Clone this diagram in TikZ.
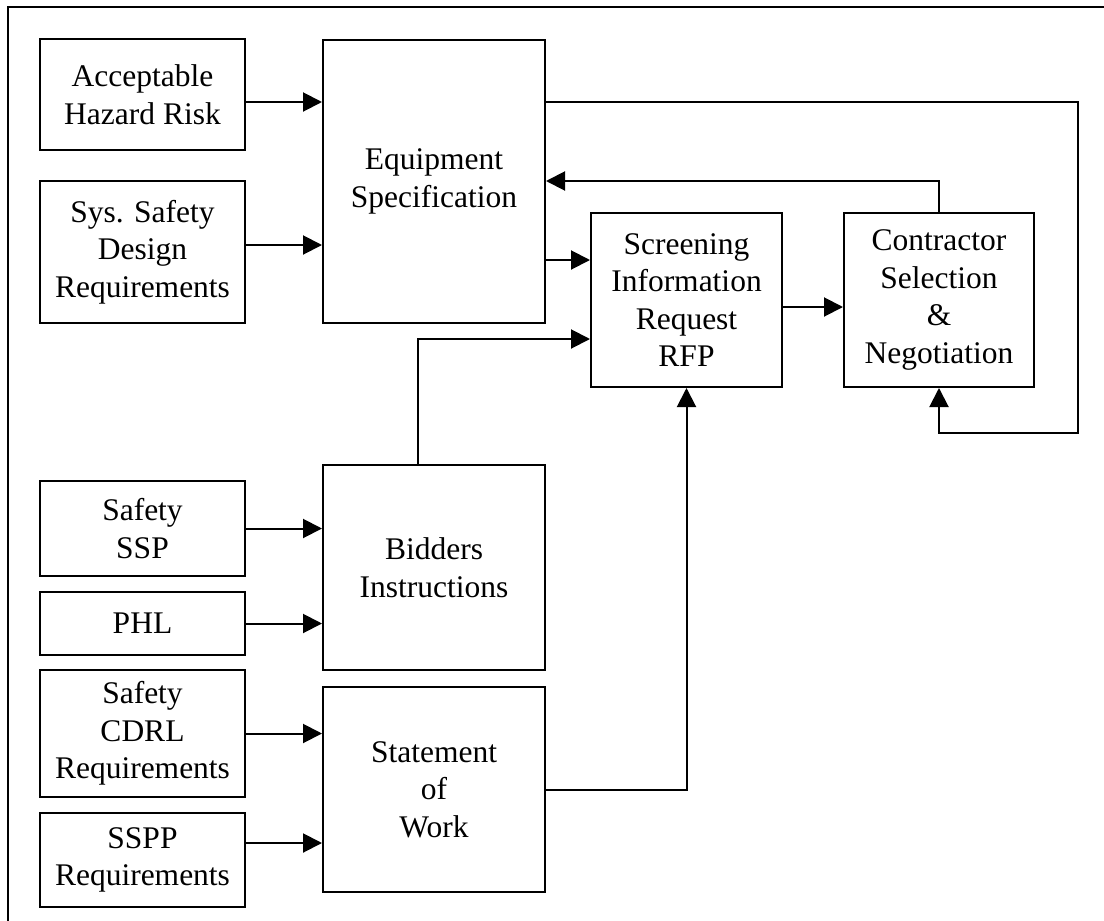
\documentclass[tikz,border=0pt]{standalone}
\usepackage{fontspec}
\setmainfont{Liberation Serif}
\usetikzlibrary{arrows.meta}
\begin{document}
\begin{tikzpicture}[x=1pt,y=-1pt,
  box/.style={draw, line width=2pt, inner sep=0pt, align=center,
    font=\fontsize{31.5}{37.5}\selectfont},
  arr/.style={line width=2pt, -{Triangle[length=19pt,width=19pt]}},
  ln/.style={line width=2pt}]
\useasboundingbox (0,0) rectangle (1104,921);
\fill[white] (0,0) rectangle (1104,921);
\draw[ln] (1104,7) -- (8,7) -- (8,921);
% boxes
\node[box, minimum width=205pt, minimum height=111pt] (ahr) at (142.5,94.5) {Acceptable\\Hazard Risk};
\node[box, minimum width=205pt, minimum height=142pt] (ssd) at (142.5,252) {Sys. Safety\\Design\\Requirements};
\node[box, minimum width=222pt, minimum height=283pt] (eq) at (434,181.5) {Equipment\\Specification};
\node[box, minimum width=191pt, minimum height=174pt] (scr) at (686.5,300) {Screening\\Information\\Request\\RFP};
\node[box, minimum width=190pt, minimum height=174pt] (con) at (939,300) {Contractor\\Selection\\\&\\Negotiation};
\node[box, minimum width=222pt, minimum height=205pt] (bid) at (434,567.5) {Bidders\\Instructions};
\node[box, minimum width=222pt, minimum height=205pt] (sow) at (434,789.5) {Statement\\of\\Work};
\node[box, minimum width=205pt, minimum height=95pt] (ssp) at (142.5,528.5) {Safety\\SSP};
\node[box, minimum width=205pt, minimum height=63pt] (phl) at (142.5,623.5) {PHL};
\node[box, minimum width=205pt, minimum height=127pt] (cdrl) at (142.5,733.5) {Safety\\CDRL\\Requirements};
\node[box, minimum width=205pt, minimum height=94pt] (sspp) at (142.5,860) {SSPP\\Requirements};
% helper coordinates
\coordinate (yA) at (0,102);
\coordinate (yB) at (0,245);
\coordinate (yC) at (0,260);
\coordinate (yD) at (0,307);
\coordinate (yE) at (0,181);
\coordinate (yF) at (418,339);
\coordinate (yG) at (0,843);
\coordinate (cR) at (1078,433);
% connectors
\draw[arr] (ahr.east |- yA) -- (eq.west |- yA);
\draw[arr] (ssd.east |- yB) -- (eq.west |- yB);
\draw[arr] (eq.east |- yC) -- (scr.west |- yC);
\draw[arr] (scr.east |- yD) -- (con.west |- yD);
\draw[arr] (eq.east |- yA) -| (cR) -| (con.south);
\draw[arr] (con.north) |- (eq.east |- yE);
\draw[arr] (bid.north -| yF) -- (yF) -- (scr.west |- yF);
\draw[arr] (sow.east) -| (scr.south);
\draw[arr] (ssp.east) -- (ssp.east -| bid.west);
\draw[arr] (phl.east) -- (phl.east -| bid.west);
\draw[arr] (cdrl.east) -- (cdrl.east -| sow.west);
\draw[arr] (sspp.east |- yG) -- (sow.west |- yG);
\end{tikzpicture}
\end{document}
